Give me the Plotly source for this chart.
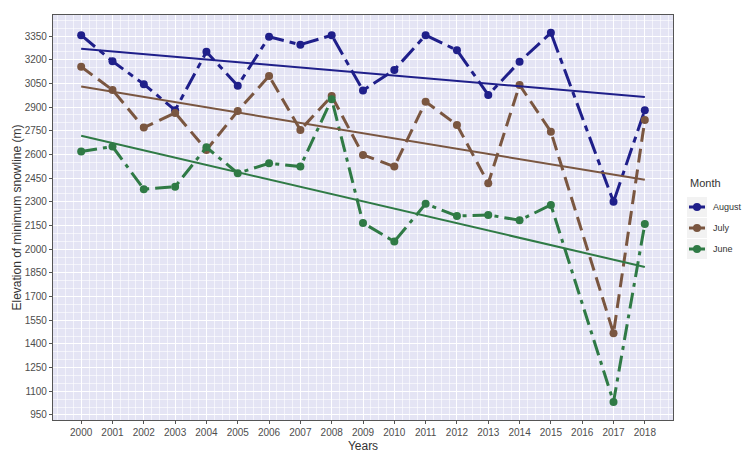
import numpy as np
import plotly.graph_objects as go

years = list(range(2000, 2019))
august = [3355, 3190, 3045, 2880, 3250, 3035, 3345, 3295, 3355, 3005, 3135, 3355, 3260, 2977, 3187, 3370, None, 2300, 2880]
july = [3155, 3008, 2770, 2863, 2628, 2875, 3097, 2755, 2970, 2597, 2523, 2934, 2787, 2417, 3040, 2744, None, 1468, 2818]
june = [2618, 2650, 2380, 2396, 2645, 2481, 2544, 2523, 2950, 2166, 2048, 2287, 2210, 2217, 2183, 2280, None, 1032, 2160]

series = [
    ("August", august, "#1f1f8a", "18px,6px,6px,6px"),
    ("July", july, "#7a5640", "14px,7px"),
    ("June", june, "#2f7a45", "16px,6px,4px,6px"),
]
y_ticks = list(range(950, 3351, 150))

W, H = 742, 453
ML, MR, MT, MB = 53, 69, 15, 33
PW, PH = W - ML - MR, H - MT - MB


def px_x(px):
    return (px - ML) / PW


def px_y(py):
    return (H - MB - py) / PH


fig = go.Figure()
for name, vals, color, dash in series:
    fig.add_trace(go.Scatter(
        x=years, y=vals, name=name, mode="lines+markers", connectgaps=True,
        line=dict(color=color, width=3, dash=dash),
        marker=dict(color=color, size=8), showlegend=False,
    ))
for name, vals, color, dash in series:
    xs = np.array([x for x, v in zip(years, vals) if v is not None], dtype=float)
    vs = np.array([v for v in vals if v is not None], dtype=float)
    k, b = np.polyfit(xs, vs, 1)
    fx = [years[0], years[-1]]
    fig.add_trace(go.Scatter(
        x=fx, y=[k * fx[0] + b, k * fx[1] + b], mode="lines", showlegend=False,
        line=dict(color=color, width=2), hoverinfo="skip",
    ))

# custom legend (ggplot style, placed in right margin)
legend_rows = [207, 228, 249]
fig.add_annotation(x=px_x(688), y=px_y(183), xref="paper", yref="paper", text="Month",
                   showarrow=False, xanchor="left", yanchor="middle",
                   font=dict(family="Liberation Sans, Arial", size=11, color="#333333"))
for (name, vals, color, dash), ry in zip(series, legend_rows):
    fig.add_shape(type="rect", xref="paper", yref="paper",
                  x0=px_x(687), x1=px_x(707), y0=px_y(ry - 10), y1=px_y(ry + 10),
                  fillcolor="#f2f2f2", line=dict(width=0), layer="below")
    fig.add_shape(type="line", xref="paper", yref="paper",
                  x0=px_x(689), x1=px_x(705), y0=px_y(ry), y1=px_y(ry),
                  line=dict(color=color, width=3))
    fig.add_shape(type="circle", xref="paper", yref="paper",
                  xsizemode="pixel", ysizemode="pixel",
                  xanchor=px_x(697), yanchor=px_y(ry),
                  x0=-4, x1=4, y0=-4, y1=4, fillcolor=color, line=dict(width=0))
    fig.add_annotation(x=px_x(711), y=px_y(ry), xref="paper", yref="paper", text=name,
                       showarrow=False, xanchor="left", yanchor="middle",
                       font=dict(family="Liberation Sans, Arial", size=9, color="#333333"))

axis_common = dict(
    showline=True, linecolor="#555555", linewidth=1.2, mirror=True,
    ticks="outside", ticklen=3, tickcolor="#555555",
    gridcolor="#ffffff", gridwidth=1, zeroline=False,
    tickfont=dict(family="Liberation Sans, Arial", size=10, color="#4d4d4d"),
)
fig.update_xaxes(
    range=[1999.1, 2018.9], tickmode="array", tickvals=years, ticktext=[str(y) for y in years],
    title=dict(text="Years", font=dict(family="Liberation Sans, Arial", size=12, color="#333333"), standoff=4),
    minor=dict(dtick=0.25, tick0=2000, showgrid=True, gridcolor="rgba(255,255,255,0.6)", gridwidth=0.6),
    **axis_common,
)
fig.update_yaxes(
    range=[918, 3483], tickmode="array", tickvals=y_ticks, ticktext=[str(v) for v in y_ticks],
    title=dict(text="Elevation of minimum snowline (m)", font=dict(family="Liberation Sans, Arial", size=12, color="#333333"), standoff=0),
    minor=dict(dtick=50, tick0=950, showgrid=True, gridcolor="rgba(255,255,255,0.6)", gridwidth=0.6),
    **axis_common,
)
fig.update_layout(
    width=W, height=H,
    margin=dict(l=ML, r=MR, t=MT, b=MB, autoexpand=False),
    plot_bgcolor="#e4e4f4", paper_bgcolor="#ffffff",
    font=dict(family="Liberation Sans, Arial", color="#333333"),
    showlegend=False,
)
fig.write_html("out.html", post_script="document.body.style.margin='0';",
               config={"displayModeBar": False})
